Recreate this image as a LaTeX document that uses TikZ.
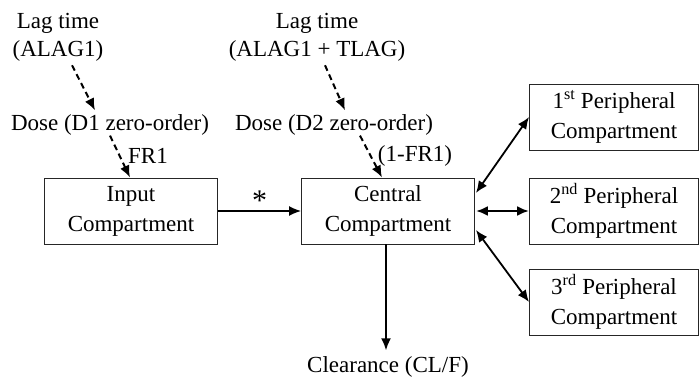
\documentclass[tikz,border=0pt]{standalone}
\usepackage{fontspec}
\setmainfont{Liberation Serif}
\usepackage{tikz}
\usetikzlibrary{arrows.meta,positioning,calc}

\begin{document}
\begin{tikzpicture}[
  x=1pt, y=-1pt,
  every node/.style={font=\fontsize{23}{28}\selectfont, inner sep=2pt},
  box/.style={draw=black!85, line width=0.9pt, minimum width=173pt, minimum height=66pt, align=center, font=\fontsize{23}{30}\selectfont},
  txt/.style={align=center},
  arrow/.style={-{Latex[length=12pt,width=10pt]}, line width=2pt},
  dasharrow/.style={-{Latex[length=12pt,width=10pt]}, line width=2pt, dash pattern=on 6pt off 4pt},
  twoway/.style={{Latex[length=12pt,width=10pt]}-{Latex[length=12pt,width=10pt]}, line width=1.8pt}
]
\useasboundingbox (0,0) rectangle (699,377);

% lag times and doses
\node[txt] (lag1) at (58,37) {Lag time\\(ALAG1)};
\node[txt] (lag2) at (317,37) {Lag time\\(ALAG1 + TLAG)};
\node (dose1) at (110,125) {Dose (D1 zero-order)};
\node (dose2) at (334,125) {Dose (D2 zero-order)};
\node (fr1) at (148,156) {FR1};
\node (fr2) at (415,156) {(1-FR1)};

% compartments
\node[box] (input) at (131,211) {Input\\Compartment};
\node[box] (central) at (388,211) {Central\\Compartment};
\node[box, minimum width=169pt] (per1) at (614,117) {1\textsuperscript{st} Peripheral\\Compartment};
\node[box, minimum width=169pt] (per2) at (614,211) {2\textsuperscript{nd} Peripheral\\Compartment};
\node[box, minimum width=169pt] (per3) at (614,302) {3\textsuperscript{rd} Peripheral\\Compartment};
\node (clear) at (388,367) {Clearance (CL/F)};

\draw[dasharrow] ($(lag1.south)+(14,2)$) -- ($(dose1.north)+(-15,-2)$);
\draw[dasharrow] ($(dose1.south)+(0,-2)$) -- ($(input.north)+(-1,0)$);
\draw[dasharrow] ($(lag2.south)+(8,2)$) -- ($(dose2.north)+(11,-2)$);
\draw[dasharrow] ($(dose2.south)+(26,-2)$) -- ($(central.north)+(-6,0)$);

\draw[arrow, line width=1.6pt] (input.east) -- node[above=-2pt, font=\fontsize{30}{30}\selectfont] {*} (central.west);
\draw[arrow] ($(central.south)+(-2,0)$) -- ($(clear.north)+(-2,-4)$);

\draw[twoway] ($(central.east)+(1,-18)$) -- (per1.west);
\draw[twoway, line width=2.6pt] ($(central.east)+(1,0)$) -- (per2.west);
\draw[twoway] ($(central.east)+(1,19)$) -- (per3.west);
\end{tikzpicture}
\end{document}
